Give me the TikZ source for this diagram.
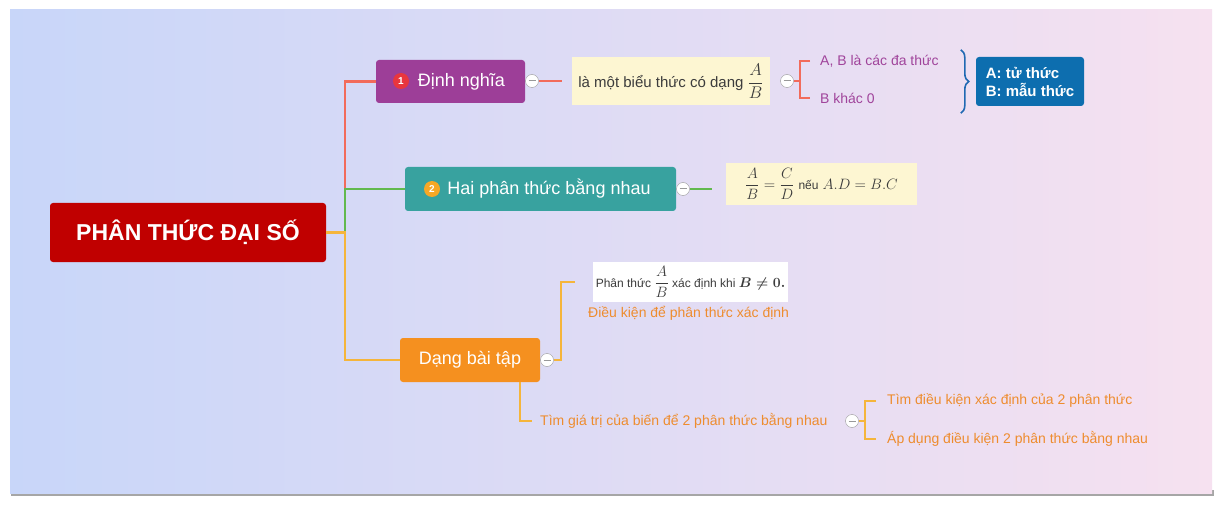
\RequirePackage{fix-cm}
\documentclass[tikz,border=0pt]{standalone}
\usepackage{amsmath,amssymb}
\usepackage{fontspec}
\setmainfont{Liberation Sans}
\usepackage{xcolor}
\usetikzlibrary{arrows,positioning,calc,decorations.pathreplacing}

\definecolor{bgblue}{HTML}{C8D6F9}
\definecolor{bglav}{HTML}{E2DDF6}
\definecolor{bgpink}{HTML}{F6E1F0}
\definecolor{rootred}{HTML}{C00000}
\definecolor{defpurple}{HTML}{9D3E98}
\definecolor{eqteal}{HTML}{38A29F}
\definecolor{exorange}{HTML}{F5901F}
\definecolor{badgered}{HTML}{E8363D}
\definecolor{badgeyel}{HTML}{F6A825}
\definecolor{linered}{HTML}{F26B5B}
\definecolor{linegreen}{HTML}{62B94E}
\definecolor{lineorange}{HTML}{F5B53B}
\definecolor{noteyellow}{HTML}{FDF6D2}
\definecolor{notegray}{HTML}{3C3C3C}
\definecolor{txtpurple}{HTML}{A0449B}
\definecolor{txtorange}{HTML}{EE8C2E}
\definecolor{bracebl}{HTML}{2069B3}
\definecolor{boxblue}{HTML}{0D6EAF}

\tikzset{
  box/.style={rounded corners=3pt, text=white, inner sep=0pt, font=\fontsize{18}{21}\selectfont},
  note/.style={fill=noteyellow, text=notegray, inner sep=0pt},
  leaf/.style={anchor=west, inner sep=0pt, font=\fontsize{14}{16}\selectfont},
  badge/.style={circle, inner sep=0pt, minimum size=16pt, text=white, font=\fontsize{10}{10}\selectfont\bfseries},
  fold/.style={circle, draw=gray!80, fill=white, inner sep=0pt, minimum size=13pt,
    path picture={\draw[gray!80, line width=1pt] ([xshift=-3.5pt]path picture bounding box.center) -- ([xshift=3.5pt]path picture bounding box.center);}},
  link/.style={line width=2.2pt}
}

\begin{document}
\begin{tikzpicture}[x=1pt,y=-1pt]
\fill[white] (0,0) rectangle (1221,505);
\fill[black!35] (11,490) rectangle (1214,496); % shadow under the sheet
\shade[left color=bgblue, middle color=bglav, right color=bgpink] (10,10) rectangle (1212,493);

% main branches
\node[box, fill=rootred, minimum width=276pt, minimum height=59pt, font=\fontsize{23}{26}\selectfont\bfseries] (root) at (188,232.5) {PHÂN THỨC ĐẠI SỐ};
\node[box, fill=defpurple, minimum width=149pt, minimum height=43pt] (def) at (450.5,81.5) {\hspace{22pt}Định nghĩa};
\node[box, fill=eqteal, minimum width=271pt, minimum height=44pt] (eq) at (540.5,189) {\hspace{17pt}Hai phân thức bằng nhau};
\node[box, fill=exorange, minimum width=140pt, minimum height=44pt] (ex) at (470,360) {Dạng bài tập};
\node[badge, fill=badgered] (b1) at (401,81) {1};
\node[badge, fill=badgeyel] (b2) at (432,189) {2};

\draw[link, linered] (root.east) -- ++(19,0) |- (def.west);
\draw[link, linegreen] (root.east) -- ++(19,0) |- (eq.west);
\draw[link, lineorange] (root.east) -- ++(19,0) |- (ex.west);

% collapse buttons
\foreach \n/\x/\y in {c1/532/81, c2/787/81, c3/683/189, c4/547/360, c5/852/421}
\node[fold] (\n) at (\x,\y) {};

% row 1
\node[note, minimum width=198pt, minimum height=48pt, font=\fontsize{15}{18}\selectfont] (note1) at (671,81.5) {là một biểu thức có dạng {\fontsize{17}{20}\selectfont$\dfrac{A}{B}$}};
\draw[link, linered] (c1.east) -- ([xshift=-10pt]note1.west |- c1.east);
\node[leaf, text=txtpurple] (ab) at (820,61) {A, B là các đa thức};
\node[leaf, text=txtpurple] (bk) at (820,98) {B khác 0};
\draw[link, linered] (c2.east) -- ++(7,0);
\draw[link, linered] ([xshift=-10pt]ab.west) -- ++(-10,0) |- ([xshift=-10pt]bk.west);
\node[box, fill=boxblue, minimum width=108pt, minimum height=49pt, align=left, font=\fontsize{15}{18}\selectfont\bfseries] (terms) at (1030,81.5) {A: tử thức\\B: mẫu thức};
\draw[bracebl, line width=1.6pt, decorate, decoration={brace, amplitude=8pt}] ([shift={(-15,-7)}]terms.north west) -- ([shift={(-15,7)}]terms.south west);

% row 2
\node[note, minimum width=191pt, minimum height=42pt, font=\fontsize{15}{18}\selectfont] (note2) at (821.5,184) {$\dfrac{A}{B}=\dfrac{C}{D}$ {\fontsize{12}{14}\selectfont nếu} $A.D=B.C$};
\draw[link, linegreen] (c3.east) -- ([xshift=-14pt]note2.west |- c3.east);

% row 3
\node[note, fill=white, minimum width=195pt, minimum height=40pt, font=\fontsize{12}{14}\selectfont] (cond) at (690.5,282) {Phân thức {\fontsize{15}{18}\selectfont$\dfrac{A}{B}$} xác định khi {\fontsize{14}{16}\selectfont$\boldsymbol{B\neq 0.}$}};
\node[leaf, text=txtorange] (condlbl) at (588,313) {Điều kiện để phân thức xác định};
\draw[link, lineorange] (c4.east) -- ++(7,0) |- ([xshift=-18pt]cond.west);

% row 4
\node[leaf, text=txtorange] (find) at (540,421) {Tìm giá trị của biến để 2 phân thức bằng nhau};
\draw[link, lineorange] ([xshift=50pt]ex.south) |- ([xshift=-8pt]find.west);
\node[leaf, text=txtorange] (t1) at (887,401) {Tìm điều kiện xác định của 2 phân thức};
\node[leaf, text=txtorange] (t2) at (887,439) {Áp dụng điều kiện 2 phân thức bằng nhau};
\draw[link, lineorange] (c5.east) -- ++(7,0);
\draw[link, lineorange] ([xshift=-11pt]t1.west) -- ++(-11,0) |- ([xshift=-11pt]t2.west);
\end{tikzpicture}
\end{document}
